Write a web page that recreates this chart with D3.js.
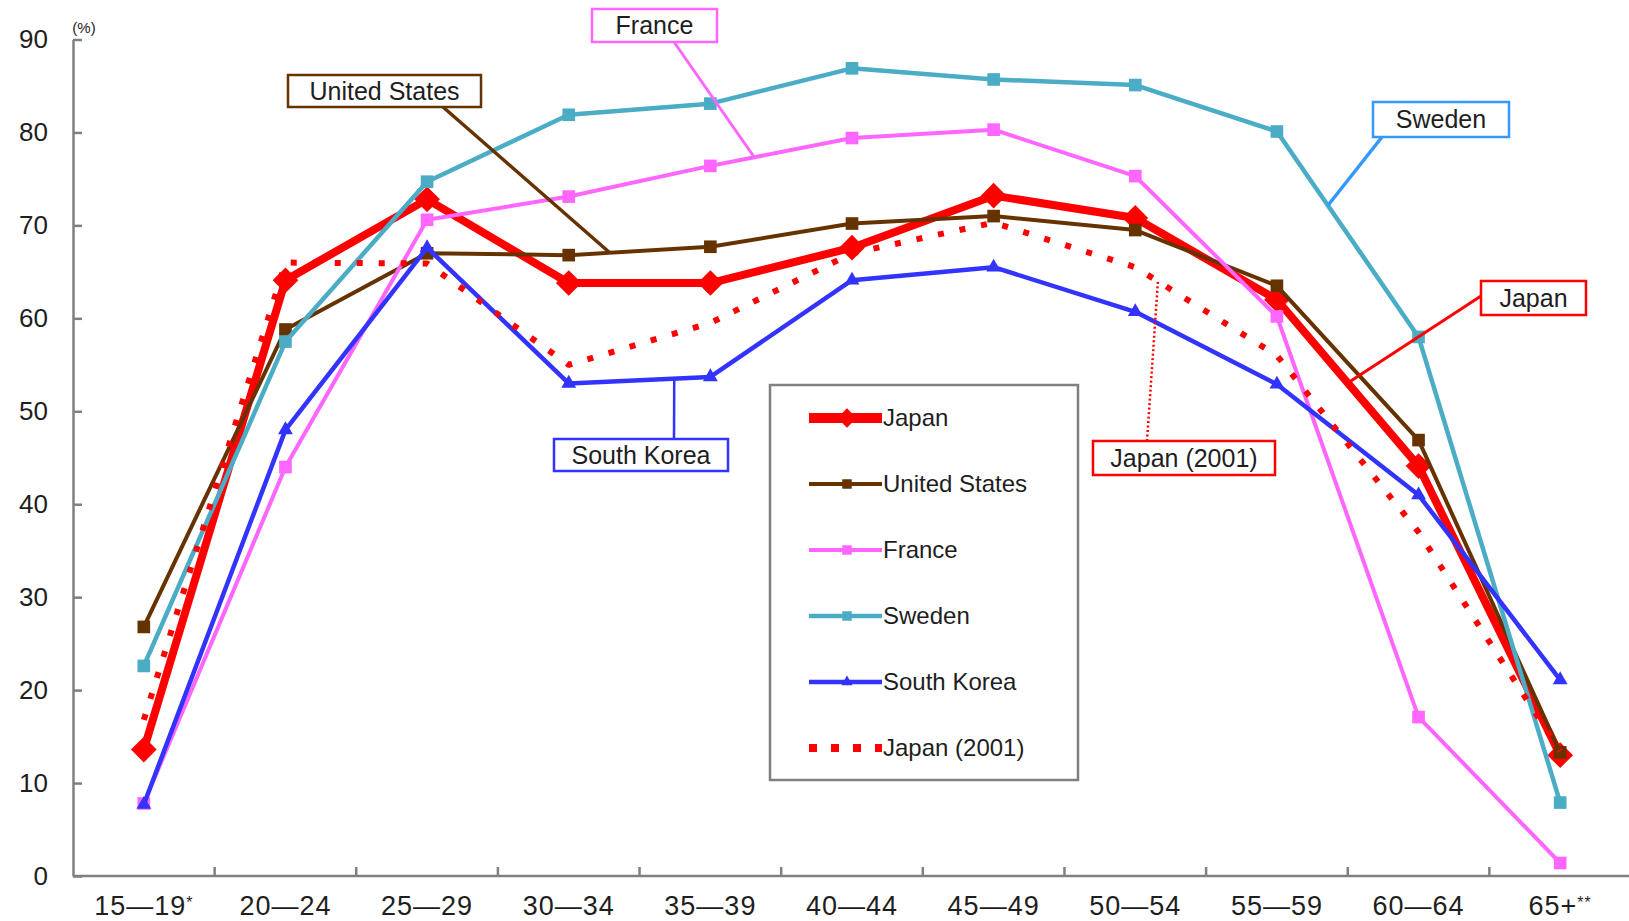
<!DOCTYPE html>
<html>
<head>
<meta charset="utf-8">
<script src="https://cdn.jsdelivr.net/npm/d3@7"></script>
<style>
  html, body { margin: 0; padding: 0; background: #fff; }
  svg { display: block; font-family: "Liberation Sans", Arial, sans-serif; }
</style>
</head>
<body>
<svg id="chart" width="1629" height="921"></svg>
<script>
// Female labour force participation rate by age group (%)
const ageGroups = ["15—19", "20—24", "25—29", "30—34", "35—39", "40—44", "45—49", "50—54", "55—59", "60—64", "65+"];
const ageNotes  = ["*", "", "", "", "", "", "", "", "", "", "**"];
const yTicks = [0, 10, 20, 30, 40, 50, 60, 70, 80, 90];

const japan       = [13.6, 64.1, 72.8, 63.8, 63.8, 67.6, 73.2, 70.8, 62.0, 44.1, 13.0];
const unitedStates= [26.8, 58.8, 67.0, 66.8, 67.7, 70.2, 71.0, 69.5, 63.5, 46.9, 13.3];
const france      = [7.8, 44.0, 70.6, 73.1, 76.4, 79.4, 80.3, 75.3, 60.2, 17.1, 1.4];
const sweden      = [22.6, 57.5, 74.7, 81.9, 83.1, 86.9, 85.7, 85.1, 80.1, 58.0, 7.9];
const southKorea  = [7.7, 48.0, 67.6, 53.0, 53.7, 64.1, 65.5, 60.7, 52.9, 41.0, 21.1];
const japan2001   = [16.8, 66.0, 65.9, 55.0, 59.5, 67.0, 70.3, 65.5, 56.0, 37.0, 13.4];

const seriesNames = ["Japan", "United States", "France", "Sweden", "South Korea", "Japan (2001)"];
const seriesValues = [japan, unitedStates, france, sweden, southKorea, japan2001];

// Drawing styles for each series
const styles = {
  "Japan":         { color: "#ff0000", width: 8,   marker: "diamond" },
  "United States": { color: "#663300", width: 4,   marker: "square" },
  "France":        { color: "#ff66ff", width: 4,   marker: "square" },
  "Sweden":        { color: "#4bacc6", width: 4.5, marker: "square" },
  "South Korea":   { color: "#3333ff", width: 4.5, marker: "triangle" },
  "Japan (2001)":  { color: "#ff0000", width: 6,   marker: null, dash: "6 16" }
};

const svg = d3.select("#chart");
const W = 1629;
const plotLeft = 73, plotRight = 1631, plotTop = 39.5, plotBottom = 876;

const x = d3.scaleBand().domain(ageGroups).range([plotLeft, plotRight]).paddingInner(0).paddingOuter(0);
const cx = d => x(d) + x.bandwidth() / 2;
const y = d3.scaleLinear().domain([0, 90]).range([plotBottom, plotTop]);

const axisColor = "#808080";
const textColor = "#1e1e1e";

// Y axis
const yAxis = d3.axisLeft(y).tickValues(yTicks).tickSize(-9).tickSizeOuter(0).tickPadding(25);
const gy = svg.append("g").attr("transform", `translate(${plotLeft},0)`).call(yAxis);
gy.select(".domain").attr("stroke", axisColor).attr("stroke-width", 2.5);
gy.selectAll(".tick line").attr("stroke", axisColor).attr("stroke-width", 2.5);
gy.selectAll(".tick text").attr("fill", textColor).style("font-size", "26px")
  .attr("font-family", "'Liberation Sans', Arial, sans-serif");

svg.append("text").attr("x", 84).attr("y", 33).attr("text-anchor", "middle")
  .attr("fill", textColor).style("font-size", "15px").text("(%)");

// X axis: labels centred in each band, tick marks on the band boundaries
const xAxis = d3.axisBottom(x).tickSize(0).tickPadding(20);
const gx = svg.append("g").attr("transform", `translate(0,${plotBottom})`).call(xAxis);
gx.select(".domain").remove();
gx.selectAll(".tick text").remove();
gx.selectAll(".tick").each(function(d, i) {
  const t = d3.select(this).append("text")
    .attr("y", 20).attr("dy", "0.71em").attr("text-anchor", "middle")
    .attr("fill", textColor).style("font-size", "27px").style("letter-spacing", "1px")
    .attr("font-family", "'Liberation Sans', Arial, sans-serif");
  t.append("tspan").text(d);
  if (ageNotes[i]) t.append("tspan").attr("dy", "-0.45em").style("font-size", "16px").text(ageNotes[i]);
});
svg.append("line").attr("x1", plotLeft).attr("x2", W).attr("y1", plotBottom).attr("y2", plotBottom)
  .attr("stroke", axisColor).attr("stroke-width", 2.5);
svg.append("g").selectAll("line").data(ageGroups.slice(1)).join("line")
  .attr("x1", d => x(d)).attr("x2", d => x(d))
  .attr("y1", plotBottom).attr("y2", plotBottom - 9)
  .attr("stroke", axisColor).attr("stroke-width", 2.5);

// Marker shapes
function markerPath(kind) {
  if (kind === "diamond") return d3.symbol(d3.symbolSquare, 330)();
  if (kind === "square") return d3.symbol(d3.symbolSquare, 160)();
  if (kind === "triangle") return d3.symbol(d3.symbolTriangle, 95)();
  return null;
}
function markerRotate(kind) { return kind === "diamond" ? 45 : 0; }

// Series lines and markers
const line = d3.line().x((v, i) => cx(ageGroups[i])).y(v => y(v));
const plot = svg.append("g");
seriesNames.forEach((name, si) => {
  const st = styles[name];
  const vals = seriesValues[si];
  const g = plot.append("g");
  g.append("path").datum(vals).attr("d", line)
    .attr("fill", "none").attr("stroke", st.color).attr("stroke-width", st.width)
    .attr("stroke-linejoin", "round")
    .attr("stroke-dasharray", st.dash || null);
  if (st.marker) {
    g.selectAll("path.m").data(vals).join("path").attr("class", "m")
      .attr("d", markerPath(st.marker))
      .attr("transform", (v, i) => `translate(${cx(ageGroups[i])},${y(v)}) rotate(${markerRotate(st.marker)})`)
      .attr("fill", st.color);
  }
});

// Point on a series line between two age groups (fraction t along the segment)
function along(values, i, t) {
  const x0 = cx(ageGroups[i]), x1 = cx(ageGroups[i + 1]);
  const y0 = y(values[i]), y1 = y(values[i + 1]);
  return [x0 + (x1 - x0) * t, y0 + (y1 - y0) * t];
}

// Callout labels
const callouts = [
  { text: "United States", color: "#663300", box: [288, 75, 193, 32], from: [443, 107], series: unitedStates, seg: 3, t: 0.29, lw: 3.5 },
  { text: "France",        color: "#ff66ff", box: [592, 9, 125, 33],  from: [674, 42],  series: france,       seg: 4, t: 0.31, lw: 3 },
  { text: "Sweden",        color: "#3399ff", box: [1373, 102, 136, 35], from: [1382, 137], series: sweden,    seg: 8, t: 0.36, lw: 3.5 },
  { text: "Japan",         color: "#ff0000", box: [1481, 281, 105, 34], from: [1481, 296], series: japan,     seg: 8, t: 0.5,  lw: 3 },
  { text: "South Korea",   color: "#3333ff", box: [554, 439, 174, 32], from: [674, 439], series: southKorea,  seg: 3, t: 0.745, lw: 2.5 },
  { text: "Japan (2001)",  color: "#ff0000", box: [1093, 441, 182, 34], from: [1147, 441], series: japan2001, seg: 7, t: 0.16, lw: 2.5, dash: "2 2.5" }
];
const cg = svg.append("g");
callouts.forEach(c => {
  const to = along(c.series, c.seg, c.t);
  cg.append("line").attr("x1", c.from[0]).attr("y1", c.from[1]).attr("x2", to[0]).attr("y2", to[1])
    .attr("stroke", c.color).attr("stroke-width", c.lw).attr("stroke-dasharray", c.dash || null);
  const [bx, by, bw, bh] = c.box;
  cg.append("rect").attr("x", bx).attr("y", by).attr("width", bw).attr("height", bh)
    .attr("fill", "#fff").attr("stroke", c.color).attr("stroke-width", 2.5);
  cg.append("text").attr("x", bx + bw / 2).attr("y", by + bh / 2).attr("dy", "0.35em")
    .attr("text-anchor", "middle").attr("fill", textColor).style("font-size", "25px").text(c.text);
});

// Legend
const lg = svg.append("g");
lg.append("rect").attr("x", 770).attr("y", 385).attr("width", 308).attr("height", 395)
  .attr("fill", "#fff").attr("stroke", axisColor).attr("stroke-width", 2.5);
seriesNames.forEach((name, i) => {
  const st = styles[name];
  const ly = 418 + i * 66;
  lg.append("line").attr("x1", 809).attr("x2", 882).attr("y1", ly).attr("y2", ly)
    .attr("stroke", st.color)
    .attr("stroke-dasharray", st.dash ? "8 14" : null)
    .attr("stroke-width", st.dash ? 8 : (name === "Japan" ? 10 : st.width));
  if (st.marker) {
    lg.append("path").attr("d", markerPath(st.marker))
      .attr("transform", `translate(847,${ly}) rotate(${markerRotate(st.marker)}) scale(0.75)`)
      .attr("fill", st.color);
  }
  lg.append("text").attr("x", 883).attr("y", ly).attr("dy", "0.35em")
    .attr("fill", textColor).style("font-size", "24px").text(name);
});
</script>
</body>
</html>
